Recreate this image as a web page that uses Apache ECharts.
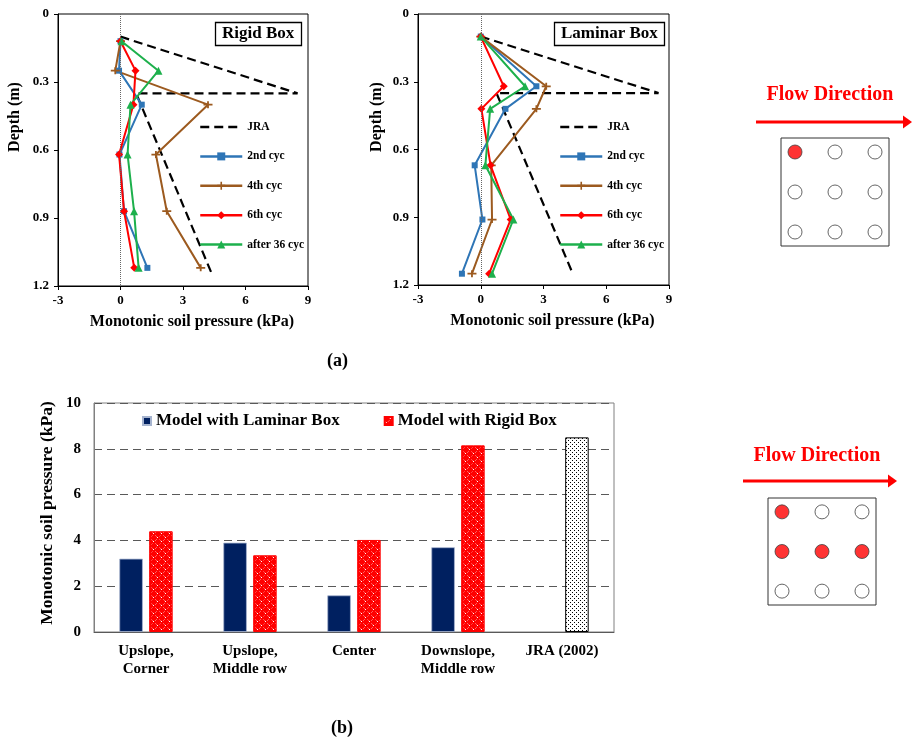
<!DOCTYPE html>
<html>
<head>
<meta charset="utf-8">
<script src="https://cdn.jsdelivr.net/npm/echarts@6/dist/echarts.min.js"></script>
<style>
  html, body { margin: 0; padding: 0; background: #fff; }
  #chart { width: 913px; height: 739px; }
</style>
</head>
<body>
<div id="chart"></div>
<script>
// ---- Depth profiles of monotonic soil pressure (kPa) ----
const seriesNames = ['JRA', '2nd cyc', '4th cyc', '6th cyc', 'after 36 cyc'];

// JRA (2002) design distribution, same in both boxes
const jraPressure = [0, 8.5, 0.75, 4.4];
const jraDepth = [0.10, 0.35, 0.35, 1.15];

// Rigid box
const rigidDepth = [0.12, 0.25, 0.40, 0.62, 0.87, 1.12];
const rigid2nd = [0, -0.07, 1.02, -0.05, 0.17, 1.29];
const rigid4th = [0, -0.25, 4.2, 1.7, 2.22, 3.85];
const rigid6th = [0, 0.72, 0.62, -0.07, 0.17, 0.66];
const rigid36 = [0.05, 1.82, 0.48, 0.34, 0.65, 0.87];

// Laminar box
const laminarDepth = [0.10, 0.32, 0.42, 0.67, 0.91, 1.15];
const laminar2nd = [0, 2.66, 1.18, -0.29, 0.08, -0.9];
const laminar4th = [0, 3.13, 2.66, 0.5, 0.54, -0.42];
const laminar6th = [0, 1.1, 0.03, 0.47, 1.43, 0.4];
const laminar36 = [0, 2.12, 0.45, 0.22, 1.56, 0.54];

const pressureTicks = [-3, 0, 3, 6, 9];
const depthTicks = [0, 0.3, 0.6, 0.9, 1.2];

// ---- Peak pressure by pile position ----
const barCategories = ['Upslope,\nCorner', 'Upslope,\nMiddle row', 'Center', 'Downslope,\nMiddle row', 'JRA (2002)'];
const laminarPeak = [3.2, 3.9, 1.6, 3.7, null];
const rigidPeak = [4.4, 3.35, 4.02, 8.15, 8.5];   // last entry is the JRA (2002) value
const barNames = ['Model with Laminar Box', 'Model with Rigid Box'];

// ---- Pile group layout (3 x 3), instrumented piles highlighted ----
const pileCols = [0, 1, 2];
const pileRows = [0, 1, 2];
const activePilesTop = [[0, 0]];
const activePilesBottom = [[0, 0], [0, 1], [1, 1], [2, 1]];

const FONT = '"Liberation Serif", "Times New Roman", serif';

function makeBubblePattern() {
  const c = document.createElement('canvas');
  c.width = 8; c.height = 8;
  const g = c.getContext('2d');
  g.fillStyle = '#ffffff';
  g.fillRect(0, 0, 8, 8);
  g.fillStyle = '#ff0000';
  g.fillRect(0, 0, 4, 4);
  g.fillRect(4, 4, 4, 4);
  g.beginPath(); g.arc(6, 2, 2.2, 0, Math.PI * 2); g.fill();
  g.beginPath(); g.arc(2, 6, 2.2, 0, Math.PI * 2); g.fill();
  g.fillStyle = '#ffffff';
  g.fillRect(5, 1, 1, 1);
  g.fillRect(1, 5, 1, 1);
  return c;
}
function makeDotPattern() {
  const c = document.createElement('canvas');
  c.width = 4; c.height = 4;
  const g = c.getContext('2d');
  g.fillStyle = '#ffffff';
  g.fillRect(0, 0, 4, 4);
  g.fillStyle = '#000000';
  g.fillRect(0, 0, 1, 1);
  g.fillRect(2, 2, 1, 1);
  return c;
}
const bubbleFill = { image: makeBubblePattern(), repeat: 'repeat' };
const dotFill = { image: makeDotPattern(), repeat: 'repeat' };

const cycStyle = {
  '2nd cyc': { color: '#2E75B6', symbol: 'rect', symbolSize: 6 },
  '4th cyc': { color: '#9C5A1F', symbol: 'path://M0,4H10V6H0ZM4,1H6V9H4Z', symbolSize: [9, 7] },
  '6th cyc': { color: '#FF0000', symbol: 'diamond', symbolSize: 8 },
  'after 36 cyc': { color: '#1DB04C', symbol: 'triangle', symbolSize: 8 }
};

function profileSeries(name, xs, depths, gridIdx) {
  const s = cycStyle[name];
  return {
    name: name, type: 'line', xAxisIndex: gridIdx, yAxisIndex: gridIdx,
    data: xs.map((x, i) => [x, depths[i]]),
    symbol: s.symbol, symbolSize: s.symbolSize, showSymbol: true,
    lineStyle: { color: s.color, width: 2 },
    itemStyle: { color: s.color },
    z: 3, animation: false
  };
}
function jraSeries(gridIdx) {
  return {
    name: 'JRA', type: 'line', xAxisIndex: gridIdx, yAxisIndex: gridIdx,
    data: jraPressure.map((x, i) => [x, jraDepth[i]]),
    symbol: 'none',
    lineStyle: { color: '#000', width: 2.2, type: [9, 5] },
    itemStyle: { color: '#000' },
    markLine: {
      silent: true, symbol: 'none', label: { show: false },
      lineStyle: { color: '#666', type: 'dotted', width: 1 },
      data: [{ xAxis: 0 }]
    },
    z: 2, animation: false
  };
}

function profileXAxis(gridIdx) {
  return {
    gridIndex: gridIdx, type: 'value', min: pressureTicks[0], max: pressureTicks[pressureTicks.length - 1],
    interval: pressureTicks[1] - pressureTicks[0],
    axisLine: { onZero: false, lineStyle: { color: '#000', width: 1 } },
    axisTick: { show: true, length: 4, lineStyle: { color: '#000' } },
    axisLabel: { fontFamily: FONT, fontSize: 13, fontWeight: 'bold', color: '#000', margin: 8 },
    splitLine: { show: false },
    name: 'Monotonic soil pressure (kPa)', nameLocation: 'middle', nameGap: 28,
    nameTextStyle: { fontFamily: FONT, fontSize: 16, fontWeight: 'bold', color: '#000', padding: [0, 0, 0, 18] }
  };
}
function profileYAxis(gridIdx) {
  return {
    gridIndex: gridIdx, type: 'value', inverse: true,
    min: depthTicks[0], max: depthTicks[depthTicks.length - 1], interval: depthTicks[1] - depthTicks[0],
    axisLine: { onZero: false, lineStyle: { color: '#000', width: 1 } },
    axisTick: { show: true, length: 4, lineStyle: { color: '#000' } },
    axisLabel: {
      fontFamily: FONT, fontSize: 13, fontWeight: 'bold', color: '#000', margin: 9,
      formatter: v => (Math.abs(v) < 1e-9 ? '0' : v.toFixed(1))
    },
    splitLine: { show: false }
  };
}
function profileLegend(left) {
  return {
    orient: 'vertical', left: left, top: 121, padding: 0,
    data: seriesNames.map(n => n === 'JRA' ? { name: n, itemStyle: { opacity: 0 } } : n),
    itemWidth: 42, itemHeight: 10, itemGap: 17.4,
    lineStyle: { width: 2.5 },
    textStyle: { fontFamily: FONT, fontSize: 11.5, fontWeight: 'bold', color: '#000', lineHeight: 12 },
    selectedMode: false
  };
}

function pileAxis(gridIdx, inverse) {
  return { gridIndex: gridIdx, type: 'value', min: -0.35, max: 2.35, show: false, inverse: inverse };
}
function pileSeries(gridIdx, active) {
  const data = [];
  pileRows.forEach(r => pileCols.forEach(c => {
    const on = active.some(p => p[0] === c && p[1] === r);
    data.push({ value: [c, r], itemStyle: { color: on ? '#FF0000' : '#FFFFFF' } });
  }));
  return {
    type: 'scatter', xAxisIndex: gridIdx, yAxisIndex: gridIdx,
    symbol: 'circle', symbolSize: 14, data: data,
    itemStyle: { borderColor: '#404040', borderWidth: 1 },
    silent: true, animation: false
  };
}

function flowArrow(x1, x2, y) {
  return [
    { type: 'line', shape: { x1: x1, y1: y, x2: x2 - 7, y2: y }, style: { stroke: '#FF0000', lineWidth: 3 }, silent: true },
    { type: 'polygon', shape: { points: [[x2, y], [x2 - 9, y - 6.5], [x2 - 9, y + 6.5]] }, style: { fill: '#FF0000' }, silent: true }
  ];
}
function label(x, y, text, size, color, rotate) {
  return {
    type: 'text', x: x, y: y, rotation: rotate ? Math.PI / 2 : 0, silent: true,
    style: { text: text, fontFamily: FONT, fontSize: size, fontWeight: 'bold', fill: color, align: 'center', verticalAlign: 'middle' }
  };
}

const chart = echarts.init(document.getElementById('chart'), null, { renderer: 'canvas' });

const titleText = { fontFamily: FONT, fontSize: 17, fontWeight: 'bold', color: '#000', lineHeight: 20 };

chart.setOption({
  animation: false,
  textStyle: { fontFamily: FONT },
  title: [
    { text: 'Rigid Box', left: 215, top: 22, padding: [2, 7, 2, 7], borderColor: '#000', borderWidth: 1.3, textStyle: titleText },
    { text: 'Laminar Box', left: 554, top: 22, padding: [2, 7, 2, 7], borderColor: '#000', borderWidth: 1.3, textStyle: titleText },
    { text: '(a)', left: 327, top: 351, padding: 0, textStyle: Object.assign({}, titleText, { fontSize: 18 }) },
    { text: '(b)', left: 331, top: 718, padding: 0, textStyle: Object.assign({}, titleText, { fontSize: 18 }) }
  ],
  grid: [
    { left: 58, top: 14, width: 250, height: 272, show: true, borderColor: '#000', borderWidth: 1 },
    { left: 418, top: 14, width: 251, height: 271, show: true, borderColor: '#000', borderWidth: 1 },
    { left: 94, top: 403, width: 520, height: 229, show: true, borderColor: '#808080', borderWidth: 1 },
    { left: 781, top: 138, width: 108, height: 108, show: true, borderColor: '#333', borderWidth: 1 },
    { left: 768, top: 498, width: 108, height: 107, show: true, borderColor: '#333', borderWidth: 1 }
  ],
  legend: [
    profileLegend(199),
    profileLegend(559),
    {
      orient: 'horizontal', left: 142, top: 411, padding: 0,
      data: barNames, icon: 'rect', itemWidth: 8, itemHeight: 8, itemGap: 44,
      textStyle: { fontFamily: FONT, fontSize: 17, fontWeight: 'bold', color: '#000', lineHeight: 20 },
      selectedMode: false
    }
  ],
  xAxis: [
    profileXAxis(0),
    profileXAxis(1),
    {
      gridIndex: 2, type: 'category', data: barCategories,
      axisLine: { lineStyle: { color: '#595959', width: 1 } },
      axisTick: { show: false },
      axisLabel: { fontFamily: FONT, fontSize: 15, fontWeight: 'bold', color: '#000', margin: 10, interval: 0, lineHeight: 18, verticalAlign: 'top' }
    },
    pileAxis(3, false),
    pileAxis(4, false)
  ],
  yAxis: [
    profileYAxis(0),
    profileYAxis(1),
    {
      gridIndex: 2, type: 'value', min: 0, max: 10, interval: 2,
      axisLine: { show: true, lineStyle: { color: '#808080' } },
      axisTick: { show: false },
      axisLabel: { fontFamily: FONT, fontSize: 15, fontWeight: 'bold', color: '#000', margin: 13 },
      splitLine: { show: true, lineStyle: { color: '#595959', type: [8, 5], width: 1 } }
    },
    pileAxis(3, true),
    pileAxis(4, true)
  ],
  series: [
    jraSeries(0),
    profileSeries('2nd cyc', rigid2nd, rigidDepth, 0),
    profileSeries('4th cyc', rigid4th, rigidDepth, 0),
    profileSeries('6th cyc', rigid6th, rigidDepth, 0),
    profileSeries('after 36 cyc', rigid36, rigidDepth, 0),
    jraSeries(1),
    profileSeries('2nd cyc', laminar2nd, laminarDepth, 1),
    profileSeries('4th cyc', laminar4th, laminarDepth, 1),
    profileSeries('6th cyc', laminar6th, laminarDepth, 1),
    profileSeries('after 36 cyc', laminar36, laminarDepth, 1),
    {
      name: barNames[0], type: 'bar', xAxisIndex: 2, yAxisIndex: 2,
      data: laminarPeak, barWidth: 23.5, barGap: '27%',
      itemStyle: { color: '#002060', borderColor: '#A6B4CF', borderWidth: 0.8 }
    },
    {
      name: barNames[1], type: 'bar', xAxisIndex: 2, yAxisIndex: 2,
      data: rigidPeak.map((v, i) => i === barCategories.length - 1
        ? { value: v, itemStyle: { color: dotFill, borderColor: '#000', borderWidth: 1 } }
        : v),
      barWidth: 23.5, barGap: '27%',
      itemStyle: { color: bubbleFill, borderColor: '#FF0000', borderWidth: 1 }
    },
    pileSeries(3, activePilesTop),
    pileSeries(4, activePilesBottom)
  ],
  graphic: [
    label(15, 117, 'Depth (m)', 16, '#000', true),
    label(377, 117, 'Depth (m)', 16, '#000', true),
    label(47, 513, 'Monotonic soil pressure (kPa)', 17.5, '#000', true),
    label(830, 95, 'Flow Direction', 20, '#FF0000', false),
    label(817, 456, 'Flow Direction', 20, '#FF0000', false)
  ].concat(flowArrow(756, 912, 122), flowArrow(743, 897, 481))
});
</script>
</body>
</html>
